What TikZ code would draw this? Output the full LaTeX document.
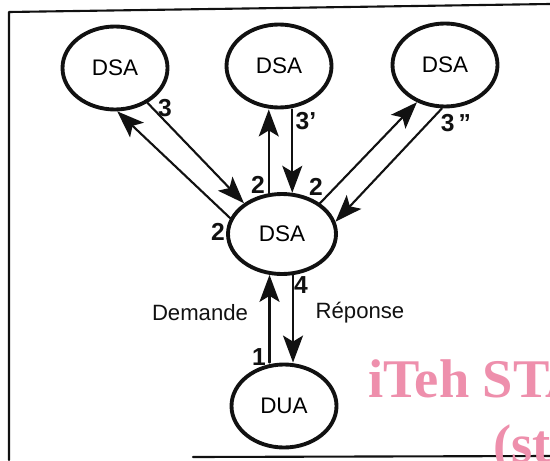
\documentclass[tikz,border=0pt]{standalone}
\usepackage{fontspec}
\setsansfont{Liberation Sans}
\newfontfamily\wmfont{Liberation Serif}
\usetikzlibrary{arrows.meta,shapes.geometric}
\definecolor{ink}{HTML}{111111}
\definecolor{wmpink}{HTML}{EE8FAC}
\tikzset{
  agent/.style={ellipse,draw=ink,line width=2.2pt,minimum width=2.1cm,minimum height=1.66cm,inner sep=0pt,font=\sffamily\fontsize{12.8}{14}\selectfont},
  flow/.style={-{Stealth[length=5.4mm,width=4mm,inset=1.2mm]},ink,line width=1.2pt},
  num/.style={text=ink,font=\sffamily\bfseries\fontsize{14}{14}\selectfont,inner sep=0pt},
  caption/.style={text=ink,font=\sffamily\fontsize{12.6}{14}\selectfont,inner sep=0pt},
  wmark/.style={anchor=base west,text=wmpink,font=\wmfont\bfseries\fontsize{31}{31}\selectfont,inner sep=0pt}
}

\begin{document}
\begin{tikzpicture}[x=1cm,y=1cm,line cap=round,line join=round,font=\sffamily]
  \path[use as bounding box] (0,0) rectangle (11,9.2);
  \clip (0,0) rectangle (11,9.2);
  \fill[white] (0,0) rectangle (11,9.2);

  % frame
  \draw[ink,line width=1.2pt] (0.18,0) -- (0.18,8.96) -- (11,9.12);
  \draw[ink,line width=1.2pt] (3.86,0.06) -- (11,0.08);

  % watermark
  \node[wmark] (wmtop) at (7.36,1.26) {iTeh STA};
  \node[wmark] (wmbot) at (9.86,-0.04) {(st};

  % agents
  \node[agent] (dsaL) at (2.30,7.84) {DSA};
  \node[agent] (dsaM) at (5.58,7.88) {DSA};
  \node[agent] (dsaR) at (8.90,7.90) {DSA};
  \node[agent,minimum width=2.16cm,minimum height=1.6cm] (dsaC) at (5.64,4.52) {DSA};
  \node[agent] (dua) at (5.68,1.08) {DUA};

  % chained requests
  \draw[flow] (dsaC.163) -- (dsaL.-87);
  \draw[flow] (dsaL.-47) -- (dsaC.141);
  \draw[flow] (dsaC.108) -- (dsaC.108 |- dsaM.south);
  \draw[flow] (dsaC.76 |- dsaM.south) -- (dsaC.76);
  \draw[flow] (dsaC.39) -- (dsaR.-127);
  \draw[flow] (dsaR.-94) -- (dsaC.13);

  % user agent
  \draw[flow] (dsaC.-107 |- dua.north) -- (dsaC.-107);
  \draw[flow] (dsaC.-75) -- (dsaC.-75 |- dua.north);

  \node[num] (n3l) at (3.30,7.04) {3};
  \node[num] (n3m) at (6.12,6.78) {3'};
  \node[num] (n3r) at (9.12,6.74) {3\,''};
  \node[num] (n2l) at (4.36,4.56) {2};
  \node[num] (n2m) at (5.16,5.50) {2};
  \node[num] (n2r) at (6.32,5.46) {2};
  \node[num] (n4) at (6.02,3.50) {4};
  \node[num] (n1) at (5.18,2.06) {1};
  \node[caption] (ask) at (4.00,2.94) {Demande};
  \node[caption] (reply) at (7.20,2.94) {Réponse};
\end{tikzpicture}
\end{document}
